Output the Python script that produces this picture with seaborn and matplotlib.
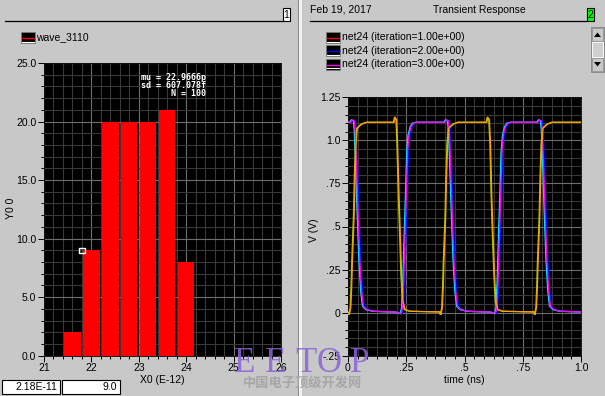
import numpy as np
import pandas as pd
import seaborn as sns
import matplotlib
matplotlib.use("Agg")
import matplotlib.pyplot as plt
from matplotlib.ticker import MultipleLocator
from matplotlib.patches import Rectangle, Polygon
from matplotlib.lines import Line2D

# ---------------- data: histogram panel ----------------
bin_centers = [21.6, 22.0, 22.4, 22.8, 23.2, 23.6, 24.0]
bin_counts = [2, 9, 20, 20, 20, 21, 8]
cursor_x = [21.8]
cursor_y = [9.0]
hist_xticks = [21, 22, 23, 24, 25, 26]
hist_xticklabels = ["21", "22", "23", "24", "25", "26"]
hist_yticks = [0, 5, 10, 15, 20, 25]
hist_yticklabels = ["0.0", "5.0", "10.0", "15.0", "20.0", "25.0"]
stats_lines = ["mu = 22.9666p", "sd = 607.078f", "N = 100"]
hist_legend = "wave_3110"
cursor_readout = ["2.18E-11", "9.0"]

# ---------------- data: transient panel ----------------
orange_t = [0.000, 0.006, 0.012, 0.016, 0.019, 0.026, 0.030, 0.0345, 0.040, 0.059, 0.080,
            0.198, 0.202, 0.209, 0.213, 0.219, 0.225, 0.230, 0.236, 0.245, 0.266,
            0.396, 0.399, 0.405, 0.409, 0.412, 0.419, 0.423, 0.4275, 0.433, 0.452, 0.473,
            0.596, 0.600, 0.607, 0.612, 0.617, 0.623, 0.629, 0.635, 0.643, 0.664,
            0.800, 0.803, 0.809, 0.813, 0.816, 0.823, 0.827, 0.8315, 0.837, 0.856, 0.877, 1.000]
orange_v = [0.002, -0.011, 0.028, 0.153, 0.298, 0.549, 0.781, 0.974, 1.070, 1.094, 1.105,
            1.105, 1.134, 1.120, 0.974, 0.684, 0.433, 0.220, 0.066, 0.018, 0.008,
            0.004, -0.011, 0.028, 0.153, 0.298, 0.549, 0.781, 0.974, 1.070, 1.094, 1.105,
            1.105, 1.134, 1.120, 0.974, 0.684, 0.433, 0.220, 0.066, 0.018, 0.008,
            0.004, -0.011, 0.028, 0.153, 0.298, 0.549, 0.781, 0.974, 1.070, 1.094, 1.105, 1.105]
magenta_t = [0.000, 0.011, 0.018, 0.027, 0.031, 0.037, 0.044, 0.051, 0.0585, 0.066, 0.080, 0.109,
             0.209, 0.228, 0.234, 0.239, 0.245, 0.251, 0.256, 0.262, 0.271, 0.281, 0.295,
             0.415, 0.422, 0.431, 0.435, 0.441, 0.448, 0.455, 0.4625, 0.470, 0.484, 0.513,
             0.614, 0.633, 0.639, 0.644, 0.650, 0.656, 0.661, 0.667, 0.676, 0.686, 0.700,
             0.814, 0.821, 0.830, 0.834, 0.840, 0.847, 0.854, 0.8615, 0.869, 0.883, 0.912, 1.000]
magenta_v = [1.105, 1.105, 1.119, 1.113, 1.051, 0.839, 0.549, 0.298, 0.124, 0.037, 0.018, 0.008,
             0.003, -0.006, 0.028, 0.182, 0.452, 0.703, 0.935, 1.032, 1.080, 1.100, 1.105,
             1.105, 1.119, 1.113, 1.051, 0.839, 0.549, 0.298, 0.124, 0.037, 0.018, 0.008,
             0.003, -0.006, 0.028, 0.182, 0.452, 0.703, 0.935, 1.032, 1.080, 1.100, 1.105,
             1.105, 1.119, 1.113, 1.051, 0.839, 0.549, 0.298, 0.124, 0.037, 0.018, 0.008, 0.004]
# Monte-Carlo iterations (draw order), their phase family and small delay
iter_names = ["iteration=1", "iteration=2", "iteration=4", "iteration=5", "iteration=3", "iteration=6"]
iter_colors = ["#ff0000", "#0000ff", "#00e8ff", "#b8c000", "#ff00ff", "#ffa000"]
iter_family = ["magenta", "magenta", "magenta", "orange", "magenta", "orange"]
iter_delay_ns = [-0.002, 0.004, -0.004, -0.003, 0.0, 0.0]
legend_labels = ["net24 (iteration=1.00e+00)", "net24 (iteration=2.00e+00)", "net24 (iteration=3.00e+00)"]
legend_colors = ["#ff0000", "#0000ff", "#ff00ff"]
tr_xticks = [0, 0.25, 0.5, 0.75, 1.0]
tr_xticklabels = ["0", ".25", ".5", ".75", "1.0"]
tr_yticks = [-0.25, 0, 0.25, 0.5, 0.75, 1.0, 1.25]
tr_yticklabels = ["-.25", "0", ".25", ".5", ".75", "1.0", "1.25"]

# ---------------- style ----------------
W, H = 605, 396
BG = "#c8c8c8"
FS = 7.5
plt.rcParams["font.family"] = ["Liberation Sans", "DejaVu Sans"]
plt.rcParams["font.size"] = FS

fig = plt.figure(figsize=(W / 100, H / 100), dpi=100, facecolor=BG)


def fxy(x, y):
    return x / W, 1 - y / H


def rect(x0, y0, w, h, **kw):
    fig.add_artist(Rectangle((x0 / W, 1 - (y0 + h) / H), w / W, h / H,
                             transform=fig.transFigure, **kw))


def line(x0, y0, x1, y1, **kw):
    fig.add_artist(Line2D([x0 / W, x1 / W], [1 - y0 / H, 1 - y1 / H],
                          transform=fig.transFigure, **kw))


def text(x, y, s, **kw):
    fig.text(x / W, 1 - y / H, s, **kw)


axL = fig.add_axes([44 / W, 1 - 355.7 / H, 237 / W, 292.7 / H])
axR = fig.add_axes([348 / W, 1 - 355.7 / H, 233 / W, 258.4 / H])

for ax in (axL, axR):
    ax.set_facecolor("black")
    ax.set_axisbelow(True)
    for sp in ax.spines.values():
        sp.set_color("black")
        sp.set_linewidth(0.6)

# ---- histogram ----
df_h = pd.DataFrame({"x": bin_centers, "count": bin_counts})
sns.barplot(data=df_h, x="x", y="count", native_scale=True, width=0.86,
            color="#ff0000", saturation=1, errorbar=None, linewidth=0, ax=axL, zorder=3)
sns.scatterplot(x=cursor_x, y=cursor_y, marker="s", s=16, color="white",
                ax=axL, zorder=5, legend=False)
coll = axL.collections[-1]
coll.set_facecolor("none")
coll.set_edgecolor("white")
coll.set_linewidth(1.0)

axL.set_xlim(21, 26)
axL.set_ylim(0, 25)
axL.xaxis.set_minor_locator(MultipleLocator(0.2))
axL.yaxis.set_minor_locator(MultipleLocator(1))
axL.set_xticks(hist_xticks, hist_xticklabels)
axL.set_yticks(hist_yticks, hist_yticklabels)
axL.set_xlabel("X0 (E-12)", fontsize=FS, labelpad=1)
axL.set_ylabel("Y0 0", fontsize=FS)
axL.yaxis.set_label_coords(-0.118, 0.505)
axL.text(0.6835, 0.967, "\n".join(stats_lines), transform=axL.transAxes, ha="right",
         va="top", color="white", fontsize=6, fontweight="bold", linespacing=0.85,
         family=["DejaVu Sans Mono"], zorder=6)

# ---- transient ----
frames = []
for name, fam, dly in zip(iter_names, iter_family, iter_delay_ns):
    bt = np.array(orange_t if fam == "orange" else magenta_t)
    bv = np.array(orange_v if fam == "orange" else magenta_v)
    frames.append(pd.DataFrame({"time": bt + dly, "V": bv, "trace": name}))
df_t = pd.concat(frames, ignore_index=True)
sns.lineplot(data=df_t, x="time", y="V", hue="trace", hue_order=iter_names,
             palette=dict(zip(iter_names, iter_colors)), estimator=None, sort=False,
             linewidth=0.9, legend=False, ax=axR, zorder=3)
axR.set_xlim(0, 1.0)
axR.set_ylim(-0.25, 1.25)
axR.xaxis.set_minor_locator(MultipleLocator(1 / 24))
axR.yaxis.set_minor_locator(MultipleLocator(0.05))
axR.set_xticks(tr_xticks, tr_xticklabels)
axR.set_yticks(tr_yticks, tr_yticklabels)
axR.set_xlabel("time (ns)", fontsize=FS, labelpad=1)
axR.set_ylabel("V (V)", fontsize=FS)
axR.yaxis.set_label_coords(-0.125, 0.486)

for ax in (axL, axR):
    ax.grid(which="major", color="#6e6e6e", linewidth=0.8)
    ax.grid(which="minor", color="#383838", linewidth=0.8)
    ax.tick_params(which="major", direction="out", length=4, width=0.7, color="black",
                   labelsize=FS, pad=1.5, labelcolor="black")
    ax.tick_params(which="minor", direction="out", length=2, width=0.7, color="black")

# ---------------- chrome ----------------
# panel separator
rect(298, 0, 1, H, facecolor="#8c8c8c", edgecolor="none")
rect(299, 0, 2.5, H, facecolor="#f2f2f2", edgecolor="none")

# left header
line(5, 21, 283, 21, color="black", linewidth=0.9)
rect(283, 8, 7, 13, facecolor="white", edgecolor="black", linewidth=0.8)
text(286.5, 14.8, "1", ha="center", va="center", fontsize=FS)
# right header
text(310, 10, "Feb 19, 2017", ha="left", va="center", fontsize=FS)
text(479, 10, "Transient Response", ha="center", va="center", fontsize=FS)
line(310, 21, 587, 21, color="black", linewidth=0.9)
rect(587, 8, 7, 13, facecolor="#00ff00", edgecolor="black", linewidth=0.8)
text(590.5, 14.8, "2", ha="center", va="center", fontsize=FS)

# left legend
rect(21, 32, 14, 11, facecolor="black", edgecolor="#808080", linewidth=0.5)
line(22, 38, 34, 38, color="#ff0000", linewidth=1.0)
line(22, 41.5, 34, 41.5, color="white", linewidth=0.8)
text(36, 37.5, hist_legend, ha="left", va="center", fontsize=FS)

# right legend
for i, (lab, col) in enumerate(zip(legend_labels, legend_colors)):
    y0 = 32 + i * 13.4
    rect(326, y0, 14, 11, facecolor="black", edgecolor="#808080", linewidth=0.5)
    line(327, y0 + 6, 339, y0 + 6, color=col, linewidth=1.0)
    line(327, y0 + 9.5, 339, y0 + 9.5, color="white", linewidth=0.8)
    text(342.5, y0 + 5.5, lab, ha="left", va="center", fontsize=FS)

# scrollbar
rect(591, 27, 13, 45, facecolor="#d4d4d4", edgecolor="#808080", linewidth=0.6)
rect(592, 28, 11, 13, facecolor=BG, edgecolor="#909090", linewidth=0.6)
rect(592, 58, 11, 13, facecolor=BG, edgecolor="#909090", linewidth=0.6)
rect(592, 42, 11, 15, facecolor="#cfcfcf", edgecolor="#ffffff", linewidth=0.6)
fig.add_artist(Polygon([fxy(594, 37), fxy(601, 37), fxy(597.5, 32.5)], closed=True,
                       transform=fig.transFigure, facecolor="black", edgecolor="none"))
fig.add_artist(Polygon([fxy(594, 62), fxy(601, 62), fxy(597.5, 66.5)], closed=True,
                       transform=fig.transFigure, facecolor="black", edgecolor="none"))

# cursor readout boxes
rect(2, 380, 58, 13.5, facecolor="white", edgecolor="black", linewidth=0.8)
rect(61.5, 380, 58.5, 13.5, facecolor="white", edgecolor="black", linewidth=0.8)
text(57, 387, cursor_readout[0], ha="right", va="center", fontsize=FS)
text(117, 387, cursor_readout[1], ha="right", va="center", fontsize=FS)

# watermark
for ch, xc in zip("EETOP", [245, 276, 306, 329, 360]):
    text(xc, 372, ch, ha="center", va="baseline", fontsize=25, color="#8a62d8",
         alpha=0.85, family=["Liberation Serif", "DejaVu Serif"], zorder=20)
text(302, 383, "中国电子顶级开发网", ha="center", va="center", fontsize=9.5,
     color="#a6a6a6", fontweight="bold", family=["Noto Sans CJK SC", "DejaVu Sans"], zorder=20)

fig.savefig("out.png", dpi=100, facecolor=BG)
